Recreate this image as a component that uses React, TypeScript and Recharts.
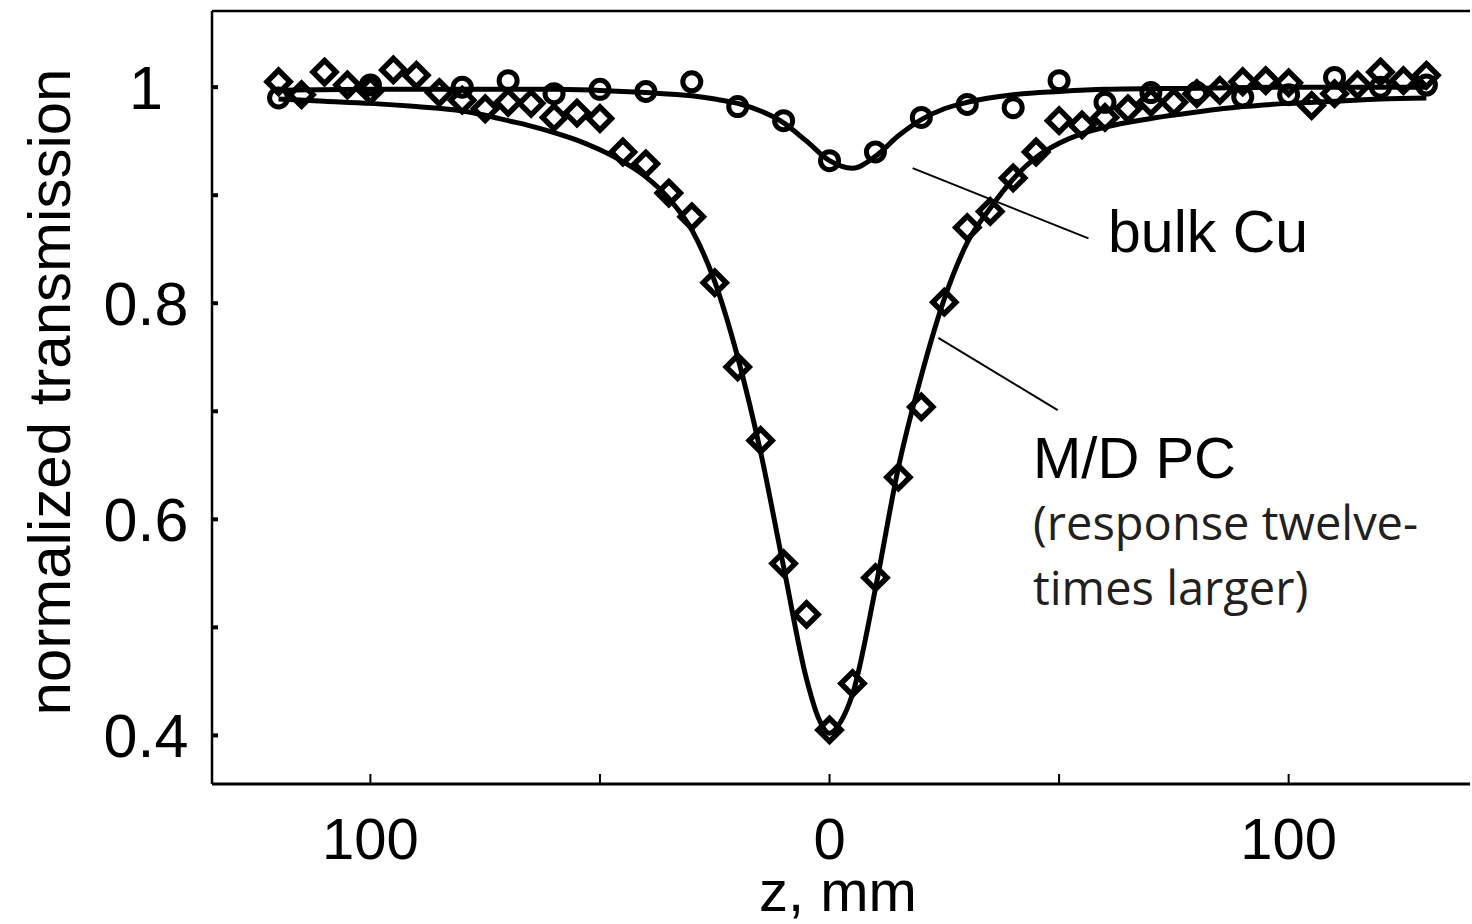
import { ComposedChart, Line, Scatter, XAxis, YAxis, ReferenceLine } from 'recharts';

// measured points, bulk Cu (open circles)
const cuZ = [-120, -100, -80, -70, -60, -50, -40, -30, -20, -10, 0, 10, 20, 30, 40, 50, 60, 70, 80, 90, 100, 110, 120, 130];
const cuT = [0.990, 1.002, 1.0, 1.006, 0.994, 0.998, 0.996, 1.005, 0.982, 0.969, 0.932, 0.940, 0.972, 0.984, 0.981, 1.006, 0.986, 0.995, 0.995, 0.991, 0.993, 1.009, 1.0, 1.002];

// measured points, M/D PC (open diamonds)
const pcZ = [
  -120, -115, -110, -105, -100, -95, -90, -85, -80, -75, -70, -65, -60, -55, -50, -45, -40, -35, -30, -25, -20, -15, -10, -5,
  0, 5, 10, 15, 20, 25, 30, 35, 40, 45, 50, 55, 60, 65, 70, 75, 80, 85, 90, 95, 100, 105, 110, 115, 120, 125, 130,
];
const pcT = [
  1.005, 0.993, 1.014, 1.002, 0.997, 1.016, 1.011, 0.995, 0.988, 0.980, 0.986, 0.985, 0.972, 0.976, 0.971, 0.940, 0.929, 0.902, 0.880, 0.819, 0.741, 0.673, 0.559, 0.512,
  0.405, 0.448, 0.546, 0.639, 0.704, 0.801, 0.870, 0.885, 0.916, 0.940, 0.969, 0.965, 0.972, 0.980, 0.986, 0.986, 0.994, 0.997, 1.005, 1.006, 1.004, 0.983, 0.994, 1.002, 1.014, 1.006, 1.011,
];

// fitted curves
const cuFitZ = [-120, -100, -80, -60, -50, -40, -30, -25, -20, -15, -10, -5, 0, 5, 10, 15, 20, 25, 30, 40, 50, 60, 80, 100, 130];
const cuFitT = [0.997, 0.998, 0.998, 0.998, 0.997, 0.995, 0.992, 0.989, 0.985, 0.978, 0.967, 0.950, 0.932, 0.925, 0.936, 0.955, 0.970, 0.980, 0.986, 0.993, 0.996, 0.998, 0.999, 1.0, 1.0];

const pcFitZ = [-120, -110, -100, -90, -80, -75, -70, -65, -60, -55, -50, -45, -40, -35, -30, -25, -20, -15, -10, -5, -2.5, 0, 2.5, 5, 10, 15, 20, 25, 30, 35, 40, 45, 50, 55, 60, 70, 80, 90, 100, 110, 120, 130];
const pcFitT = [0.989, 0.987, 0.985, 0.982, 0.978, 0.974, 0.969, 0.964, 0.958, 0.951, 0.942, 0.931, 0.917, 0.897, 0.868, 0.820, 0.750, 0.662, 0.556, 0.452, 0.417, 0.402, 0.413, 0.438, 0.536, 0.648, 0.733, 0.804, 0.856, 0.888, 0.915, 0.935, 0.948, 0.957, 0.963, 0.971, 0.977, 0.982, 0.985, 0.987, 0.989, 0.990];

const xTicks = [-100, -50, 0, 50, 100];
const xTickLabels = ['100', '', '0', '', '100'];
const yTicks = [0.4, 0.5, 0.6, 0.7, 0.8, 0.9, 1];
const yTickLabels = ['0.4', '', '0.6', '', '0.8', '', '1'];

const cuPoints = cuZ.map((z, i) => ({ z, t: cuT[i] }));
const pcPoints = pcZ.map((z, i) => ({ z, t: pcT[i] }));
const cuFit = cuFitZ.map((z, i) => ({ z, t: cuFitT[i] }));
const pcFit = pcFitZ.map((z, i) => ({ z, t: pcFitT[i] }));

const xDomain = [-134.5, 139.5];
const yDomain = [0.355, 1.0705];
const font = '"Liberation Sans", Arial, Helvetica, sans-serif';

const OpenCircle = (p: any) => (
  <circle cx={p.cx} cy={p.cy} r={9} fill="none" stroke="#000" strokeWidth={5} />
);

const OpenDiamond = (p: any) => {
  const { cx, cy } = p;
  const s = 11.5;
  return (
    <path
      d={`M${cx},${cy - s}L${cx + s},${cy}L${cx},${cy + s}L${cx - s},${cy}Z`}
      fill="none"
      stroke="#000"
      strokeWidth={5.5}
    />
  );
};

const xFmt = (v: number) => {
  const i = xTicks.indexOf(v);
  return i >= 0 ? xTickLabels[i] : '';
};

// y labels sit centred in the margin, as in the figure
const YTick = (p: any) => {
  const i = yTicks.findIndex((t) => Math.abs(t - p.payload.value) < 1e-6);
  if (i < 0 || !yTickLabels[i]) return <g />;
  return (
    <text x={p.x - 44} y={p.y} dy="0.36em" textAnchor="middle" fontSize={61} fill="#000" fontFamily={font}>
      {yTickLabels[i]}
    </text>
  );
};

export default function App() {
  return (
    <div style={{ position: 'absolute', left: 0, top: 0, width: 1472, height: 924, background: '#fff' }}>
      <ComposedChart width={1472} height={924} margin={{ top: 10, right: 0, bottom: 0, left: 0 }}>
        <XAxis
          xAxisId="b"
          dataKey="z"
          type="number"
          domain={xDomain}
          allowDataOverflow
          ticks={xTicks}
          tickFormatter={xFmt}
          height={140}
          tickSize={-10}
          tickMargin={44}
          axisLine={{ stroke: '#000', strokeWidth: 3 }}
          tickLine={{ stroke: '#000', strokeWidth: 2 }}
          tick={{ fontSize: 58, fill: '#000', fontFamily: font }}
        />
        <XAxis
          xAxisId="t"
          orientation="top"
          type="number"
          domain={xDomain}
          allowDataOverflow
          ticks={xTicks}
          height={1}
          tickSize={-10}
          tick={false}
          axisLine={{ stroke: '#000', strokeWidth: 2.5 }}
          tickLine={{ stroke: '#000', strokeWidth: 2 }}
        />
        <YAxis
          yAxisId="l"
          type="number"
          domain={yDomain}
          allowDataOverflow
          ticks={yTicks}
          width={212}
          tickSize={-6}
          tickMargin={28}
          axisLine={{ stroke: '#000', strokeWidth: 2.5 }}
          tickLine={{ stroke: '#000', strokeWidth: 4 }}
          tick={YTick}
        />
        <YAxis
          yAxisId="r"
          orientation="right"
          type="number"
          domain={yDomain}
          allowDataOverflow
          ticks={yTicks}
          width={2}
          tickSize={-5}
          tick={false}
          axisLine={false}
          tickLine={{ stroke: '#000', strokeWidth: 4 }}
        />
        <Line
          xAxisId="b"
          yAxisId="l"
          data={cuFit}
          dataKey="t"
          type="monotone"
          stroke="#000"
          strokeWidth={5}
          dot={false}
          isAnimationActive={false}
        />
        <Line
          xAxisId="b"
          yAxisId="l"
          data={pcFit}
          dataKey="t"
          type="monotone"
          stroke="#000"
          strokeWidth={5}
          dot={false}
          isAnimationActive={false}
        />
        <Scatter xAxisId="b" yAxisId="l" data={cuPoints} dataKey="t" shape={OpenCircle} isAnimationActive={false} />
        <Scatter xAxisId="b" yAxisId="l" data={pcPoints} dataKey="t" shape={OpenDiamond} isAnimationActive={false} />
        <ReferenceLine
          xAxisId="b"
          yAxisId="l"
          segment={[{ x: 18.1, y: 0.925 }, { x: 56.4, y: 0.86 }]}
          stroke="#000"
          strokeWidth={2}
        />
        <ReferenceLine
          xAxisId="b"
          yAxisId="l"
          segment={[{ x: 23.7, y: 0.768 }, { x: 49.7, y: 0.701 }]}
          stroke="#000"
          strokeWidth={2}
        />
      </ComposedChart>
      <svg
        width={1472}
        height={924}
        style={{ position: 'absolute', left: 0, top: 0, pointerEvents: 'none' }}
      >
        <text x={0} y={0} transform="translate(70,392) rotate(-90)" textAnchor="middle" fontSize={60} fontFamily={font}>
          normalized transmission
        </text>
        <text x={838} y={911} textAnchor="middle" fontSize={58} fontFamily={font}>
          z, mm
        </text>
        <text x={1108} y={252} fontSize={59} fontFamily={font}>
          bulk Cu
        </text>
        <text x={1033} y={478} fontSize={58} fontFamily={font}>
          M/D PC
        </text>
        <text x={1033} y={540} fontSize={47} fill="#231f20" fontFamily='"Open Sans", "Noto Sans", sans-serif'>
          (response twelve-
        </text>
        <text x={1033} y={605} fontSize={47} fill="#231f20" fontFamily='"Open Sans", "Noto Sans", sans-serif'>
          times larger)
        </text>
      </svg>
    </div>
  );
}
